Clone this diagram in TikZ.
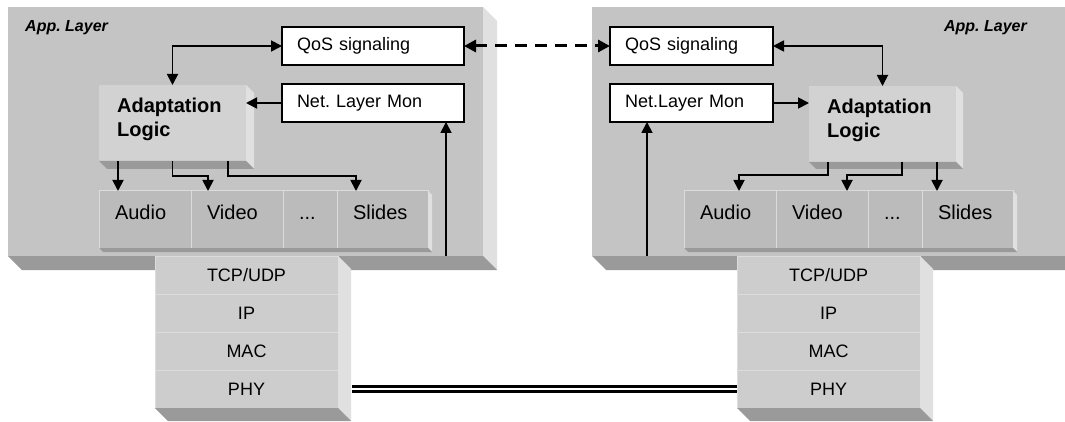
\documentclass[tikz,border=0pt]{standalone}
\usepackage{fontspec}
\setmainfont{Liberation Sans}
\usetikzlibrary{positioning}
\usetikzlibrary{calc}
\usetikzlibrary{arrows.meta}
\frenchspacing

\definecolor{panelgray}{HTML}{C4C4C4}
\definecolor{adaptgray}{HTML}{D2D2D2}
\definecolor{mediagray}{HTML}{BBBBBB}
\definecolor{stackgray}{HTML}{CDCDCD}
\definecolor{sepgray}{HTML}{DCDCDC}
\definecolor{sidegray}{HTML}{E0E0E0}
\definecolor{undergray}{HTML}{9A9A9A}

% side and bottom faces of a raised slab: ne, se, sw anchors, depth
\newcommand{\slabsides}[4]{%
  \fill[sidegray] (#1) -- ++(#4,#4) -- ($(#2)+(#4,#4)$) -- (#2) -- cycle;
  \fill[undergray] (#3) -- ++(#4,#4) -- ($(#2)+(#4,#4)$) -- (#2) -- cycle;
}

\begin{document}
\begin{tikzpicture}[
        x=1pt, y=-1pt,
        >={Triangle[length=11pt,width=11pt]},
        face/.style={fill=#1, outer sep=0pt, inner sep=0pt, anchor=north west},
        sigbox/.style={draw, line width=1.2pt, fill=white, outer sep=0pt,
                    anchor=north west, minimum height=38pt, inner xsep=15pt,
                    align=left, font=\fontsize{18}{21}\selectfont},
        cell/.style={draw=sepgray, line width=1pt, fill=mediagray, outer sep=0pt,
                    inner xsep=16pt, inner ysep=14pt, text width=#1,
                    text height=14.5pt, text depth=14.5pt,
                    font=\fontsize{20}{24}\selectfont},
        layer/.style={draw=sepgray, line width=1pt, fill=stackgray, outer sep=0pt,
                    minimum width=183pt, minimum height=38pt,
                    font=\fontsize{18}{21}\selectfont},
        adapttext/.style={inner sep=0pt, align=left,
                    font=\fontsize{20}{24}\selectfont\bfseries},
        applabel/.style={inner sep=0pt, font=\fontsize{16}{19}\selectfont\bfseries\itshape},
        arrow/.style={line width=1.8pt},
        dasharrow/.style={line width=3pt, dash pattern=on 12pt off 8pt,
                    >={Triangle[length=12pt,width=12pt]}},
        link/.style={double, line width=3pt, double distance=2.5pt}
    ]
    \clip (0,0) rectangle (1065,422);

    % ------- application layer panels -------
    \node[face=panelgray, minimum width=475pt, minimum height=249pt] (lpanel) at (8,7) {};
    \slabsides{lpanel.north east}{lpanel.south east}{lpanel.south west}{14}
    \node[face=panelgray, minimum width=490pt, minimum height=249pt] (rpanel) at (592,7) {};
    \slabsides{rpanel.north east}{rpanel.south east}{rpanel.south west}{14}

    \node[applabel, anchor=north west] (lapp) at ($(lpanel.north west)+(17,13)$) {App. Layer};
    \node[applabel, anchor=north east] (rapp) at (1027,20) {App. Layer};

    % ------- protocol stacks -------
    \node[layer, anchor=north west] (ltcp) at (155,256) {TCP/UDP};
    \node[layer, below=0pt of ltcp] (lip) {IP};
    \node[layer, below=0pt of lip] (lmac) {MAC};
    \node[layer, below=0pt of lmac] (lphy) {PHY};
    \slabsides{ltcp.north east}{lphy.south east}{lphy.south west}{13}

    \node[layer, anchor=north west] (rtcp) at (737,256) {TCP/UDP};
    \node[layer, below=0pt of rtcp] (rip) {IP};
    \node[layer, below=0pt of rip] (rmac) {MAC};
    \node[layer, below=0pt of rmac] (rphy) {PHY};
    \slabsides{rtcp.north east}{rphy.south east}{rphy.south west}{13}

    % ------- adaptation logic -------
    \node[face=adaptgray, minimum width=147pt, minimum height=76pt] (ladapt) at (99,85) {};
    \slabsides{ladapt.north east}{ladapt.south east}{ladapt.south west}{8}
    \node[adapttext, below right=13pt and 18pt of ladapt.north west] (ladaptlbl) {Adaptation\\Logic};

    \node[face=adaptgray, minimum width=147pt, minimum height=76pt] (radapt) at (809,86) {};
    \slabsides{radapt.north east}{radapt.south east}{radapt.south west}{7}
    \node[adapttext, below right=13pt and 18pt of radapt.north west] (radaptlbl) {Adaptation\\Logic};

    % ------- media row -------
    \node[cell=60pt, anchor=north west] (laudio) at (99,191) {Audio};
    \node[cell=60pt, right=0pt of laudio] (lvideo) {Video};
    \node[cell=22pt, right=0pt of lvideo] (ldots) {...};
    \node[cell=59pt, right=0pt of ldots] (lslides) {Slides};
    \slabsides{lslides.north east}{lslides.south east}{laudio.south west}{4}

    \node[cell=60pt, anchor=north west] (raudio) at (684,191) {Audio};
    \node[cell=60pt, right=0pt of raudio] (rvideo) {Video};
    \node[cell=22pt, right=0pt of rvideo] (rdots) {...};
    \node[cell=59pt, right=0pt of rdots] (rslides) {Slides};
    \slabsides{rslides.north east}{rslides.south east}{raudio.south west}{4}

    % ------- signaling and monitor boxes -------
    \node[sigbox, text width=152pt] (lqos) at (282,27) {QoS signaling};
    \node[sigbox, text width=152pt, below=19pt of lqos] (lnetmon) {Net. Layer Mon};
    \node[sigbox, text width=133pt] (rqos) at (610,27) {QoS signaling};
    \node[sigbox, text width=133pt, below=19pt of rqos] (rnetmon) {Net.Layer Mon};

    \coordinate (lmonbase) at (446,256);
    \coordinate (rmonbase) at (647,256);

    % ------- connectors -------
    \draw[arrow, <->] (ladapt.north) |- (lqos.west);
    \draw[arrow, ->] (lnetmon.west) -- (lnetmon.west -| ladapt.east);
    \draw[arrow, ->] (lmonbase) -- (lmonbase |- lnetmon.south);
    \draw[arrow, ->] ([xshift=19pt]ladapt.south west) -- ([xshift=19pt]laudio.north west);
    \draw[arrow, ->] (ladapt.south) -- ++(0,15) -| ([xshift=17pt]lvideo.north west);
    \draw[arrow, ->] ([xshift=-18pt]ladapt.south east) -- ++(0,15) -| ([xshift=19pt]lslides.north west);

    \draw[arrow, <->] (rqos.east) -| (radapt.north);
    \draw[arrow, ->] (rnetmon.east) -- (rnetmon.east -| radapt.west);
    \draw[arrow, ->] (rmonbase) -- (rmonbase |- rnetmon.south);
    \draw[arrow, ->] ([xshift=19pt]radapt.south west) -- ++(0,13) -| ([xshift=55pt]raudio.north west);
    \draw[arrow, ->] ([xshift=93pt]radapt.south west) -- ++(0,13) -| ([xshift=71pt]rvideo.north west);
    \draw[arrow, ->] ([xshift=-19pt]radapt.south east) -- ([xshift=15pt]rslides.north west);

    \draw[dasharrow, <->] (lqos.east) -- (rqos.west);
    \draw[link] ([xshift=14pt]lphy.east) -- (rphy.west);

\end{tikzpicture}
\end{document}
